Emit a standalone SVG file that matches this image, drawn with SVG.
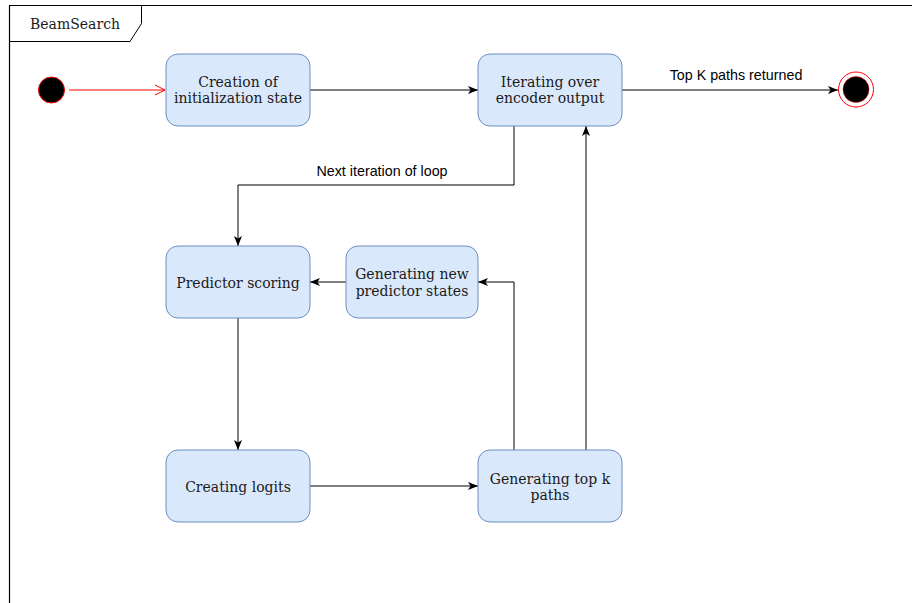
<svg xmlns="http://www.w3.org/2000/svg" width="912" height="603" viewBox="0 0 912 603">
<style>
.node rect{fill:#dae8fc;stroke:#6c8ebf;stroke-width:1}
.node text,.frame text{font-family:"DejaVu Serif",serif;font-size:14px;fill:#1a1a1a;text-anchor:middle}
.edge{fill:none;stroke:#000;stroke-width:1}
.lbl{font-family:"Liberation Sans",Arial,sans-serif;font-size:14.3px;fill:#000;text-anchor:middle}
</style>
<defs>
<marker id="arr" viewBox="0 0 10 8" refX="10" refY="4" markerWidth="10" markerHeight="8" markerUnits="userSpaceOnUse" orient="auto">
<path d="M0,0 L10,4 L0,8 L2.5,4 Z" fill="#000"/>
</marker>
<marker id="open" viewBox="0 0 12 12" refX="11" refY="6" markerWidth="12" markerHeight="12" markerUnits="userSpaceOnUse" orient="auto">
<path d="M1,1 L11,6 L1,11" fill="none" stroke="#ff0000" stroke-width="1"/>
</marker>
</defs>
<rect width="912" height="603" fill="#fff"/>
<g id="frame" class="frame">
<path d="M9.5,603 V5.5 H912" fill="none" stroke="#000" stroke-width="1.2"/>
<path d="M9.5,41.5 H130 L141.5,23.5 V5.5" fill="none" stroke="#000" stroke-width="1"/>
<text x="75" y="29">BeamSearch</text>
</g>
<g id="connectors">
<path class="edge" d="M69,90 H165" style="stroke:#ff0000" marker-end="url(#open)"/>
<path class="edge" d="M310,90 H478" marker-end="url(#arr)"/>
<path class="edge" d="M622,90 H838" marker-end="url(#arr)"/>
<path class="edge" d="M514,126 V185 H238 V246" marker-end="url(#arr)"/>
<path class="edge" d="M586,450 V126" marker-end="url(#arr)"/>
<path class="edge" d="M346,282 H310" marker-end="url(#arr)"/>
<path class="edge" d="M514,450 V282 H478" marker-end="url(#arr)"/>
<path class="edge" d="M238,318 V450" marker-end="url(#arr)"/>
<path class="edge" d="M310,486 H478" marker-end="url(#arr)"/>
<text class="lbl" x="736" y="80">Top K paths returned</text>
<text class="lbl" x="382" y="176">Next iteration of loop</text>
</g>
<g id="start">
<circle cx="51.5" cy="90" r="13" fill="#000" stroke="#ff0000" stroke-width="1"/>
</g>
<g id="end">
<circle cx="856" cy="89.5" r="17.5" fill="#fff" stroke="#ff0000" stroke-width="1"/>
<circle cx="856" cy="89.5" r="13" fill="#000" stroke="#ff0000" stroke-width="0.5"/>
</g>
<g id="n-creation" class="node">
<rect x="166" y="54" width="144" height="72" rx="12"/>
<text x="238" y="87">Creation of</text>
<text x="238" y="103">initialization state</text>
</g>
<g id="n-iterating" class="node">
<rect x="478" y="54" width="144" height="72" rx="12"/>
<text x="550" y="87">Iterating over</text>
<text x="550" y="103">encoder output</text>
</g>
<g id="n-predictor" class="node">
<rect x="166" y="246" width="144" height="72" rx="12"/>
<text x="238" y="288">Predictor scoring</text>
</g>
<g id="n-newstates" class="node">
<rect x="346" y="246" width="132" height="72" rx="12"/>
<text x="412" y="279">Generating new</text>
<text x="412" y="296">predictor states</text>
</g>
<g id="n-logits" class="node">
<rect x="166" y="450" width="144" height="72" rx="12"/>
<text x="238" y="492">Creating logits</text>
</g>
<g id="n-topk" class="node">
<rect x="478" y="450" width="144" height="72" rx="12"/>
<text x="550" y="484">Generating top k</text>
<text x="550" y="500">paths</text>
</g>
</svg>
